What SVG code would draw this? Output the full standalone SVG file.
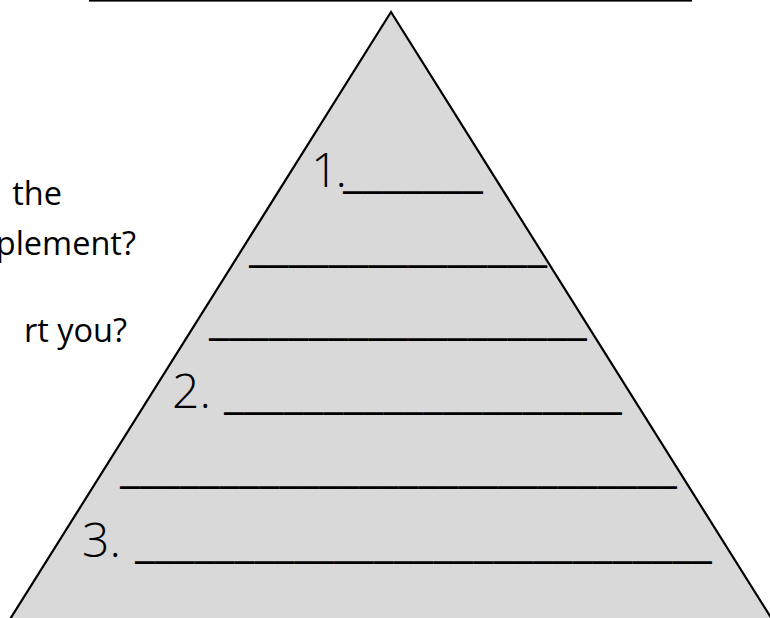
<svg xmlns="http://www.w3.org/2000/svg" width="770" height="618" viewBox="0 0 770 618">
<style>
.num{font-family:"Open Sans","Noto Sans","Liberation Sans",sans-serif;font-size:48px;font-weight:300;fill:#000;}
.us{font-family:"Open Sans","Noto Sans","Liberation Sans",sans-serif;font-size:48px;fill:#000;}
.side{font-family:"Open Sans","Noto Sans","Liberation Sans",sans-serif;font-size:32.5px;fill:#000;text-anchor:end;}
</style>
<rect width="770" height="618" fill="#fff"/>
<g id="title-line"><rect x="89" y="0" width="603" height="1.6" fill="#000"/></g>
<g id="side-text">
<text class="side" x="62" y="205">the</text>
<text class="side" x="136" y="255">plement?</text>
<text class="side" x="127" y="342">rt you?</text>
</g>
<g id="pyramid"><polygon points="391,12 7,624 775,624" fill="#D9D9D9" stroke="#000" stroke-width="2.2" stroke-linejoin="miter"/></g>
<g id="item-1">
<text class="num" x="311" y="187" letter-spacing="-3">1.</text>
<text class="us" x="343" y="187" textLength="140" lengthAdjust="spacingAndGlyphs">_______</text>
</g>
<g id="blank-a"><text class="us" x="249" y="261" textLength="298" lengthAdjust="spacingAndGlyphs">_______________</text></g>
<g id="blank-b"><text class="us" x="209" y="334" textLength="378" lengthAdjust="spacingAndGlyphs">___________________</text></g>
<g id="item-2">
<text class="num" x="172" y="408">2.</text>
<text class="us" x="224" y="408" textLength="398" lengthAdjust="spacingAndGlyphs">____________________</text>
</g>
<g id="blank-c"><text class="us" x="120" y="482" textLength="557" lengthAdjust="spacingAndGlyphs">____________________________</text></g>
<g id="item-3">
<text class="num" x="82" y="557">3.</text>
<text class="us" x="135" y="557" textLength="577" lengthAdjust="spacingAndGlyphs">_____________________________</text>
</g>
</svg>
